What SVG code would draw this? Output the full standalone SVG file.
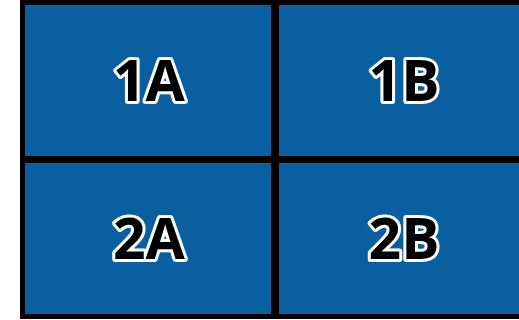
<svg xmlns="http://www.w3.org/2000/svg" width="519" height="320" viewBox="0 0 519 320">
<style>
.cell{fill:#0A5FA0}
.lbl{font-family:"Open Sans","DejaVu Sans",sans-serif;font-weight:bold;font-size:57px;fill:#000;stroke:#fff;stroke-width:6px;stroke-linejoin:round;paint-order:stroke;text-anchor:middle}
</style>
<rect x="0" y="0" width="519" height="320" fill="#fff"/>
<rect x="20" y="0" width="499" height="319" fill="#000"/>
<g id="n1A"><rect class="cell" x="25" y="5" width="246" height="151"/><text class="lbl" x="149" y="101">1A</text></g>
<g id="n1B"><rect class="cell" x="279" y="5" width="240" height="151"/><text class="lbl" x="404" y="101">1B</text></g>
<g id="n2A"><rect class="cell" x="25" y="163" width="246" height="151"/><text class="lbl" x="149" y="259">2A</text></g>
<g id="n2B"><rect class="cell" x="279" y="163" width="240" height="151"/><text class="lbl" x="404" y="259">2B</text></g>
<g id="connectors"></g>
</svg>
